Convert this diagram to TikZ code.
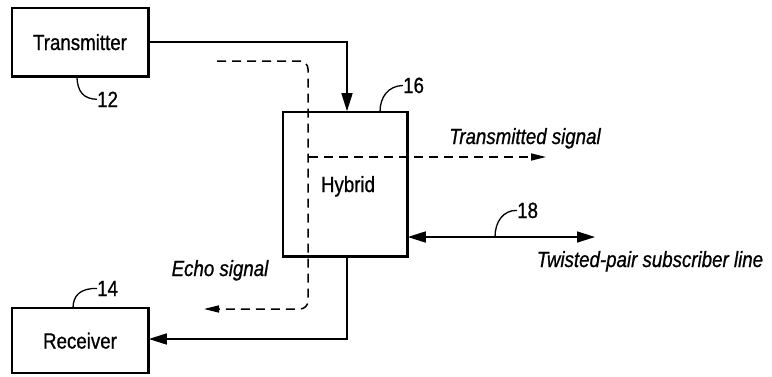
\documentclass[tikz,border=0pt]{standalone}
\usepackage{fontspec}
\setmainfont{Liberation Sans}[FakeStretch=0.85,FakeBold=0.8]
\usetikzlibrary{arrows.meta}
\begin{document}
\begin{tikzpicture}[x=1pt,y=-1pt,
  every node/.style={font=\fontsize{22}{26}\selectfont},
  box/.style={draw,line width=1.6pt,inner sep=0pt,text height=16pt,text depth=0pt},
  edge/.style={line width=2.8pt},
  sig/.style={line width=1.6pt},
  dsig/.style={line width=1.5pt,dash pattern=on 9pt off 6pt},
  bigtip/.style={-{Triangle[length=18pt,width=11pt]}},
  smalltip/.style={-{Triangle[length=15pt,width=7pt]}},
  lbl/.style={inner sep=0pt,anchor=base west},
  itl/.style={inner sep=0pt,anchor=base,font=\fontsize{22}{26}\selectfont\itshape},
  lead/.style={line width=1.3pt}]
\useasboundingbox (0,0) rectangle (772,376);
\fill[white] (0,0) rectangle (772,376);

% boxes
\node[box,minimum width=136pt,minimum height=68pt] (t) at (80,42) {Transmitter};
\node[box,minimum width=124pt,minimum height=144pt] (h) at (345,184) {\hspace*{6pt}Hybrid};
\node[box,minimum width=136pt,minimum height=65pt] (r) at (80,340.5) {Receiver};
\draw[edge] (t.north east) -- (t.south east) -- (t.south west);
\draw[edge] (h.north east) -- (h.south east) -- (h.south west);
\draw[edge] (r.north east) -- (r.south east);

% reference numerals
\node[lbl] (n12) at (97,107) {12};
\node[lbl] (n14) at (97,296) {14};
\node[lbl] (n16) at (403,93) {16};
\node[lbl] (n18) at (517,218) {18};
\draw[lead] (77,76) .. controls (77,92) and (84,99) .. (n12.west);
\draw[lead] (73,308) .. controls (73,296) and (80,288) .. (n14.west);
\draw[lead] (380,112) .. controls (380,97) and (388,86) .. (n16.west);
\draw[lead] (495,237) .. controls (495,222) and (503,210) .. (n18.west);

% solid signal paths
\draw[sig,bigtip] (t.east) -| ([xshift=2pt]h.north);
\draw[sig,bigtip] ([xshift=2pt]h.south) |- ([yshift=1.5pt]r.east);
\coordinate (le) at (595,237);
\draw[sig,{Triangle[length=18pt,width=11pt]}-{Triangle[length=18pt,width=11pt]}] (h.east |- le) -- (le);

% dashed paths
\coordinate (es) at (217,61);
\coordinate (ec) at (308,61);
\coordinate (ed) at (308,309);
\coordinate (ee) at (204,309);
\draw[dsig,smalltip,rounded corners=8pt] (es) -- (ec) -- (ed) -- (ee);
\coordinate (ts) at (309,157);
\coordinate (te) at (546,157);
\draw[dsig,smalltip] (ts) -- (te);

% italic labels
\node[itl] (ltx) at (525,144) {Transmitted signal};
\node[itl] (lecho) at (220,276) {Echo signal};
\node[itl] (ltw) at (650,267) {Twisted-pair subscriber line};
\end{tikzpicture}
\end{document}
